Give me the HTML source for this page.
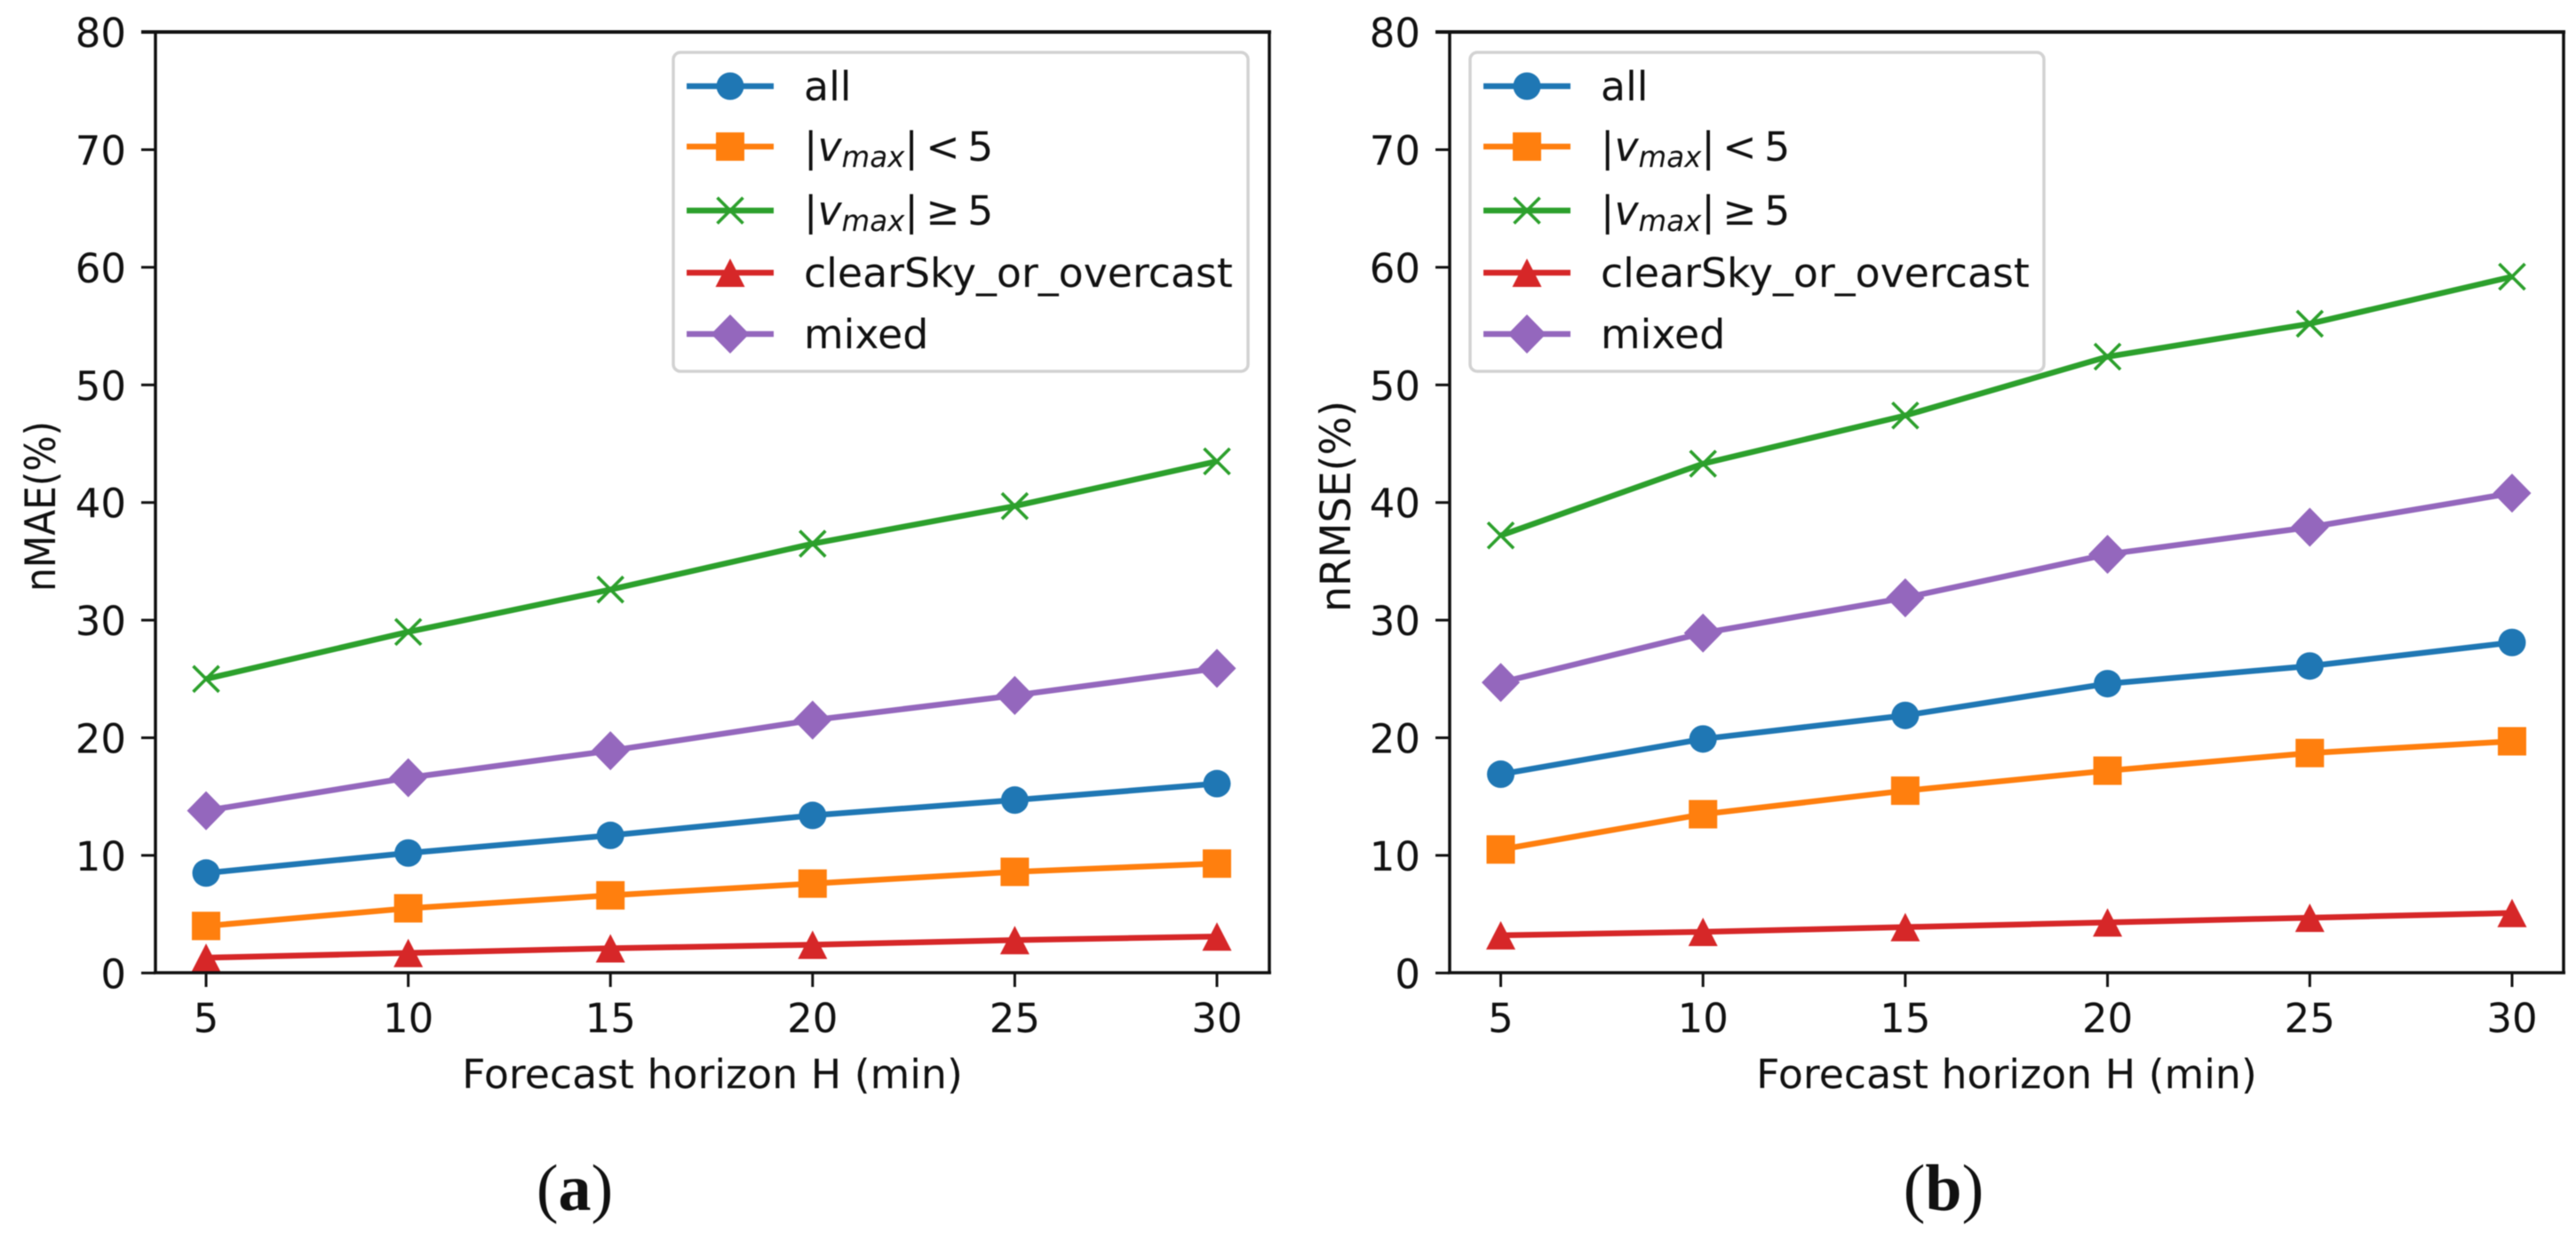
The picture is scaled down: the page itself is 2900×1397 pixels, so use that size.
<!DOCTYPE html>
<html lang="en">
<head>
<meta charset="utf-8">
<title>nMAE and nRMSE versus forecast horizon</title>
<style>
html,body{margin:0;padding:0;background:#fff;width:2900px;height:1397px;overflow:hidden}
svg{display:block;filter:blur(0.5px)}
text{font-family:"DejaVu Sans","Liberation Sans",sans-serif;fill:#111}
.cap{font-family:"Liberation Serif",serif}
</style>
</head>
<body>
<svg id="figure" xmlns="http://www.w3.org/2000/svg" width="2900" height="1397" viewBox="0 0 2900 1397"></svg>
<script>
const horizons = [5, 10, 15, 20, 25, 30];
const yTicks = [0, 10, 20, 30, 40, 50, 60, 70, 80];
const seriesNames = ['all', 'vmax-lt-5', 'vmax-ge-5', 'clearSky_or_overcast', 'mixed'];
const seriesColors = ['#1f77b4', '#ff7f0e', '#2ca02c', '#d62728', '#9467bd'];
const seriesMarkers = ['circle', 'square', 'x', 'triangle', 'diamond'];

const nmaeAll = [8.5, 10.2, 11.7, 13.4, 14.7, 16.1];
const nmaeLow = [4.0, 5.5, 6.6, 7.6, 8.6, 9.3];
const nmaeHigh = [25.0, 29.0, 32.6, 36.5, 39.7, 43.5];
const nmaeClear = [1.3, 1.7, 2.1, 2.4, 2.8, 3.1];
const nmaeMixed = [13.8, 16.6, 18.9, 21.5, 23.6, 25.9];

const nrmseAll = [16.9, 19.9, 21.9, 24.6, 26.1, 28.1];
const nrmseLow = [10.5, 13.5, 15.5, 17.2, 18.7, 19.7];
const nrmseHigh = [37.2, 43.3, 47.4, 52.4, 55.2, 59.2];
const nrmseClear = [3.2, 3.5, 3.9, 4.3, 4.7, 5.1];
const nrmseMixed = [24.7, 28.9, 31.9, 35.6, 37.9, 40.8];

const NS = 'http://www.w3.org/2000/svg';
const svg = document.getElementById('figure');

function make(parent, tag, attrs, text) {
  const el = document.createElementNS(NS, tag);
  for (const k in attrs) el.setAttribute(k, attrs[k]);
  if (text !== undefined) el.textContent = text;
  parent.appendChild(el);
  return el;
}

function drawMarker(parent, kind, cx, cy, color) {
  let m;
  if (kind === 'circle') {
    m = make(parent, 'circle', {cx: cx, cy: cy, r: 15.5, fill: color});
  } else if (kind === 'square') {
    m = make(parent, 'rect', {x: cx - 16, y: cy - 16, width: 32, height: 32, fill: color});
  } else if (kind === 'triangle') {
    m = make(parent, 'polygon', {points: `${cx},${cy - 16} ${cx + 16.5},${cy + 16} ${cx - 16.5},${cy + 16}`, fill: color});
  } else if (kind === 'diamond') {
    m = make(parent, 'polygon', {points: `${cx},${cy - 22} ${cx + 21.5},${cy} ${cx},${cy + 22} ${cx - 21.5},${cy}`, fill: color});
  } else {
    m = make(parent, 'path', {d: `M${cx - 14.5} ${cy - 14.5}L${cx + 14.5} ${cy + 14.5}M${cx - 14.5} ${cy + 14.5}L${cx + 14.5} ${cy - 14.5}`, fill: 'none', stroke: color, 'stroke-width': 3.6});
  }
  return m;
}

function legendLabel(group, i, x, y) {
  const t = make(group, 'text', {x: x, y: y, 'font-size': 45.8});
  if (i === 0) { t.textContent = 'all'; }
  else if (i === 3) { t.textContent = 'clearSky_or_overcast'; }
  else if (i === 4) { t.textContent = 'mixed'; }
  else {
    make(t, 'tspan', {}, '|');
    make(t, 'tspan', {'font-style': 'italic'}, 'v');
    make(t, 'tspan', {'font-style': 'italic', 'font-size': 32.5, dy: 7}, 'max');
    make(t, 'tspan', {dy: -7}, '|');
    make(t, 'tspan', {dx: 8.5}, i === 1 ? '<' : '≥');
    make(t, 'tspan', {dx: 8.5}, '5');
  }
  return t;
}

function drawPanel(cfg) {
  const xOf = v => cfg.x5 + (v - 5) * (cfg.x30 - cfg.x5) / 25;
  const yOf = v => 1095.3 - v * 13.24;
  const g = make(svg, 'g', {});
  
  

  horizons.forEach(h => {
    const tick = make(g, 'line', {x1: xOf(h), x2: xOf(h), y1: 1095, y2: 1111, stroke: '#111', 'stroke-width': 3});
    
    
    const lab = make(g, 'text', {x: xOf(h), y: 1162, 'font-size': 45, 'text-anchor': 'middle'}, String(h));
    
    
  });
  yTicks.forEach(v => {
    const tick = make(g, 'line', {x1: cfg.left - 16, x2: cfg.left, y1: yOf(v), y2: yOf(v), stroke: '#111', 'stroke-width': 3});
    
    
    const lab = make(g, 'text', {x: cfg.left - 33, y: yOf(v) + 17, 'font-size': 45, 'text-anchor': 'end'}, String(v));
    
    
  });

  const xt = make(g, 'text', {x: (cfg.left + cfg.right) / 2, y: 1225, 'font-size': 45.8, 'text-anchor': 'middle'}, 'Forecast horizon H (min)');
  
  
  const yt = make(g, 'text', {
    transform: `translate(${cfg.ylabelX} ${cfg.ylabelY}) rotate(-90) scale(${cfg.ylabelScale} 1.04)`,
    'font-size': 45, 'text-anchor': 'middle'
  }, cfg.ylabel);
  
  

  cfg.series.forEach((vals, i) => {
    const s = make(g, 'g', {});
    
    
    const pts = vals.map((v, k) => xOf(horizons[k]) + ',' + yOf(v)).join(' ');
    const ln = make(s, 'polyline', {points: pts, fill: 'none', stroke: seriesColors[i], 'stroke-width': 6.5, 'stroke-linejoin': 'round'});
    
    
    vals.forEach((v, k) => {
      const m = drawMarker(s, seriesMarkers[i], xOf(horizons[k]), yOf(v), seriesColors[i]);
      
      
    });
  });

  const top = make(g, 'line', {x1: cfg.left - 16, x2: cfg.right + 2, y1: 36, y2: 36, stroke: '#111', 'stroke-width': 4});
  
  
  const bottom = make(g, 'line', {x1: cfg.left - 2, x2: cfg.right + 2, y1: 1095, y2: 1095, stroke: '#111', 'stroke-width': 3.5});
  
  
  const leftS = make(g, 'line', {x1: cfg.left, x2: cfg.left, y1: 36, y2: 1095, stroke: '#111', 'stroke-width': 3.5});
  
  
  const rightS = make(g, 'line', {x1: cfg.right, x2: cfg.right, y1: 36, y2: 1095, stroke: '#111', 'stroke-width': 3.5});
  
  

  const lg = make(g, 'g', {});
  
  
  const box = make(lg, 'rect', {x: cfg.lgX, y: 59, width: cfg.lgW, height: 359, rx: 8, ry: 8, fill: '#fff', 'fill-opacity': 0.9, stroke: '#d2d2d2', 'stroke-width': 3.5});
  
  
  const rows = [97, 165, 237, 307, 376];
  seriesNames.forEach((name, i) => {
    const e = make(lg, 'g', {});
    
    
    make(e, 'line', {x1: cfg.lgX + 15, x2: cfg.lgX + 113, y1: rows[i], y2: rows[i], stroke: seriesColors[i], 'stroke-width': 6.5});
    drawMarker(e, seriesMarkers[i], cfg.lgX + 64, rows[i], seriesColors[i]);
    legendLabel(e, i, cfg.lgX + 147, rows[i] + 16);
  });

  const cap = make(g, 'text', {x: cfg.capX, y: 1362, 'font-size': 74, 'text-anchor': 'middle', 'class': 'cap'});
  
  
  make(cap, 'tspan', {}, '(');
  make(cap, 'tspan', {'font-weight': 'bold'}, cfg.cap);
  make(cap, 'tspan', {}, ')');
}

drawPanel({
  id: 'nmae', left: 175, right: 1429, x5: 232, x30: 1370,
  ylabel: 'nMAE(%)', ylabelX: 62, ylabelY: 570, ylabelScale: 0.94,
  lgX: 758, lgW: 647, capX: 647, cap: 'a',
  series: [nmaeAll, nmaeLow, nmaeHigh, nmaeClear, nmaeMixed]
});
drawPanel({
  id: 'nrmse', left: 1632, right: 2886, x5: 1689.5, x30: 2828,
  ylabel: 'nRMSE(%)', ylabelX: 1520, ylabelY: 570, ylabelScale: 1.02,
  lgX: 1655, lgW: 646, capX: 2188, cap: 'b',
  series: [nrmseAll, nrmseLow, nrmseHigh, nrmseClear, nrmseMixed]
});
</script>
</body>
</html>
